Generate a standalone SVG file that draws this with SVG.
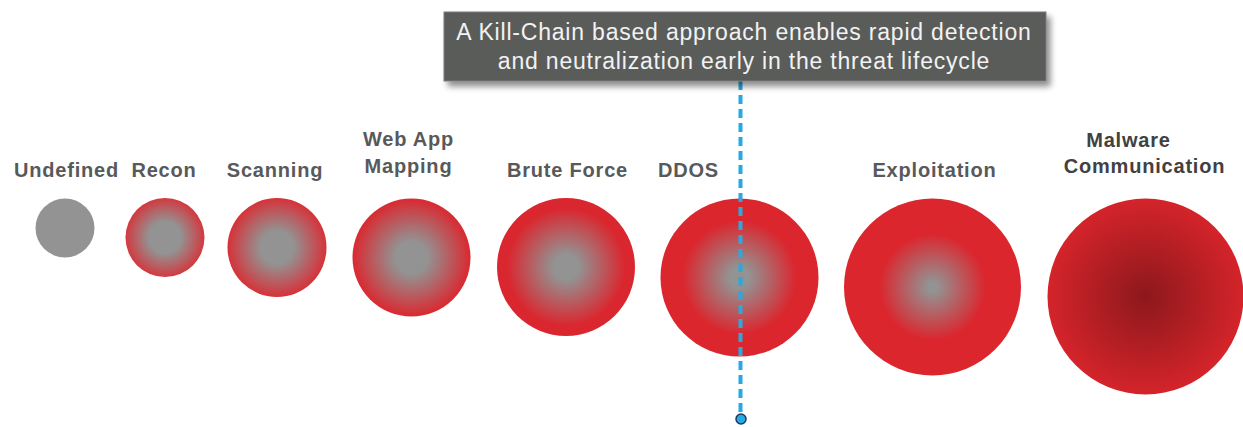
<svg xmlns="http://www.w3.org/2000/svg" width="1243" height="427" viewBox="0 0 1243 427">
<style>
.lbl{font-family:"Liberation Sans",Arial,sans-serif;font-weight:bold;font-size:20px;fill:#58595b;text-anchor:middle;letter-spacing:0.8px}
.dark{fill:#414142}
.note{font-family:"Liberation Sans",Arial,sans-serif;font-size:23px;fill:#f2f2f2;text-anchor:middle;letter-spacing:0.8px}
</style>
<defs>
<filter id="sh" x="-5%" y="-20%" width="115%" height="160%">
<feGaussianBlur in="SourceAlpha" stdDeviation="3"/>
<feOffset dx="4" dy="5" result="b"/>
<feComponentTransfer><feFuncA type="linear" slope="0.45"/></feComponentTransfer>
<feMerge><feMergeNode/><feMergeNode in="SourceGraphic"/></feMerge>
</filter>
<radialGradient id="gRecon"><stop offset="0" stop-color="#939393"/><stop offset="0.4" stop-color="#939393"/><stop offset="1" stop-color="#d2393f"/></radialGradient>
<radialGradient id="gScan"><stop offset="0" stop-color="#939393"/><stop offset="0.33" stop-color="#939393"/><stop offset="1" stop-color="#d63239"/></radialGradient>
<radialGradient id="gWeb"><stop offset="0" stop-color="#939393"/><stop offset="0.27" stop-color="#939393"/><stop offset="0.97" stop-color="#d72d34"/><stop offset="1" stop-color="#d72d34"/></radialGradient>
<radialGradient id="gBrute"><stop offset="0" stop-color="#939393"/><stop offset="0.18" stop-color="#939393"/><stop offset="0.85" stop-color="#da272f"/><stop offset="1" stop-color="#da272f"/></radialGradient>
<radialGradient id="gDdos"><stop offset="0" stop-color="#939393"/><stop offset="0.12" stop-color="#939393"/><stop offset="0.72" stop-color="#db262e"/><stop offset="1" stop-color="#db262e"/></radialGradient>
<radialGradient id="gExp"><stop offset="0" stop-color="#939393"/><stop offset="0.05" stop-color="#939393"/><stop offset="0.6" stop-color="#db262e"/><stop offset="1" stop-color="#db262e"/></radialGradient>
<radialGradient id="gMal"><stop offset="0" stop-color="#8c181c"/><stop offset="1" stop-color="#d4242a"/></radialGradient>
</defs>
<rect width="1243" height="427" fill="#ffffff"/>

<g id="undefined">
<circle cx="65" cy="228" r="29.5" fill="#939393"/>
<text class="lbl" x="66.5" y="177">Undefined</text>
</g>
<g id="recon">
<circle cx="165" cy="237.5" r="39.5" fill="url(#gRecon)"/>
<text class="lbl" x="164" y="177">Recon</text>
</g>
<g id="scanning">
<circle cx="277" cy="247.5" r="49.5" fill="url(#gScan)"/>
<text class="lbl" x="275" y="177">Scanning</text>
</g>
<g id="webapp">
<circle cx="411.5" cy="257.5" r="59" fill="url(#gWeb)"/>
<text class="lbl" x="408.5" y="146">Web App</text>
<text class="lbl" x="408.5" y="173">Mapping</text>
</g>
<g id="bruteforce">
<circle cx="566" cy="267" r="69" fill="url(#gBrute)"/>
<text class="lbl" x="567.5" y="177">Brute Force</text>
</g>
<g id="ddos">
<circle cx="739.5" cy="277.5" r="79" fill="url(#gDdos)"/>
<text class="lbl" x="688.5" y="177">DDOS</text>
</g>
<g id="exploitation">
<circle cx="932.5" cy="287" r="88.5" fill="url(#gExp)"/>
<text class="lbl" x="934.5" y="177">Exploitation</text>
</g>
<g id="malware">
<circle cx="1145.5" cy="296.5" r="98" fill="url(#gMal)"/>
<text class="lbl dark" x="1128.5" y="147">Malware</text>
<text class="lbl dark" x="1144.5" y="173">Communication</text>
</g>

<g id="connectors">
<line x1="740.5" y1="81" x2="740.5" y2="414" stroke="#27aae1" stroke-width="4" stroke-dasharray="9,5"/>
<circle cx="741" cy="419" r="5" fill="#27aae1" stroke="#1e3765" stroke-width="1.5"/>
</g>

<g id="callout">
<rect x="444" y="12" width="602" height="69" fill="#5a5b5a" stroke="#7a7b7a" stroke-width="1" filter="url(#sh)"/>
<text class="note" x="744" y="39.5">A Kill-Chain based approach enables rapid detection</text>
<text class="note" x="744" y="69">and neutralization early in the threat lifecycle</text>
</g>
</svg>
